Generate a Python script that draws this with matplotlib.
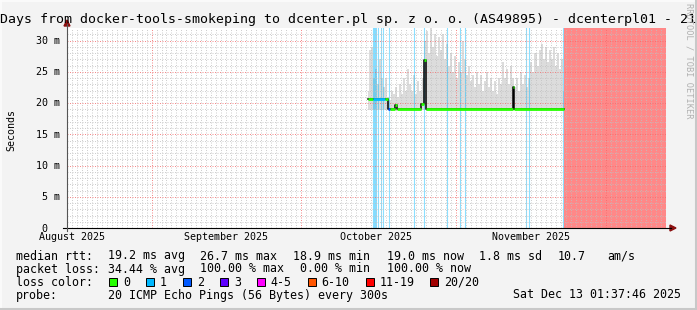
import numpy as np
import pandas as pd
import matplotlib
matplotlib.use("Agg")
import matplotlib.pyplot as plt
from matplotlib.patches import Rectangle, Polygon
from matplotlib.lines import Line2D

W, H = 697, 310
MONO = "DejaVu Sans Mono"

# ---- data ----
t_end = pd.Timestamp("2025-12-13 01:37:46")
t_start = t_end - pd.Timedelta(days=120)

month_labels = ["August 2025", "September 2025", "October 2025", "November 2025"]
month_label_dates = pd.to_datetime(["2025-08-16", "2025-09-16", "2025-10-16", "2025-11-16"])
month_starts = pd.to_datetime(["2025-09-01", "2025-10-01", "2025-11-01", "2025-12-01"])

yticks = [0, 5, 10, 15, 20, 25, 30]
ytick_labels = ["0  ", "5 m", "10 m", "15 m", "20 m", "25 m", "30 m"]

# smoke upper edge (ms), one value every ~0.4 day
smoke_start = pd.Timestamp("2025-10-14 09:00")
smoke_end = pd.Timestamp("2025-11-22 14:00")
smoke_floor = 18.9
smoke_top = [22.0, 28.5, 29.0, 24.0, 25.5, 23.0, 27.0, 24.0, 22.5, 24.0,
             21.0, 20.5, 22.0, 21.5, 22.5, 21.0, 23.0, 21.5, 24.0, 22.0,
             25.5, 23.0, 22.0, 24.5, 21.5, 23.5, 22.0, 24.0, 30.0, 31.5,
             28.0, 32.0, 29.0, 31.0, 27.5, 30.5, 28.5, 31.0, 27.0, 29.5,
             26.0, 28.0, 25.0, 27.5, 24.0, 26.5, 25.0, 30.0, 27.0, 24.5,
             26.0, 23.5, 24.5, 22.5, 25.0, 23.0, 24.5, 22.0, 23.5, 25.0,
             22.5, 24.0, 22.0, 23.5, 21.5, 24.0, 23.0, 26.5, 24.0, 25.5,
             23.0, 26.0, 24.0, 22.5, 24.0, 22.0, 25.0, 23.0, 24.5, 22.5,
             24.0, 26.5, 25.0, 28.0, 26.0, 28.5, 29.5, 27.0, 29.0, 26.5,
             28.5, 27.0, 29.0, 26.0, 28.0, 25.5, 27.0, 22.0]

# median rtt steps: segment starts, value (ms), lost pings in that segment
median_times = pd.to_datetime([
    "2025-10-14 09:00", "2025-10-15 09:00", "2025-10-17 19:00", "2025-10-18 09:00",
    "2025-10-18 19:00", "2025-10-19 18:00", "2025-10-20 04:00", "2025-10-24 23:00",
    "2025-10-25 14:00", "2025-10-26 00:00", "2025-11-12 09:00", "2025-11-12 16:00",
    "2025-11-22 14:00"])
median_vals = [20.6, 20.6, 20.6, 19.0, 19.0, 19.7, 19.0, 19.9, 26.9, 19.0, 22.6, 19.0]
median_loss = [0, 1, 0, 2, 0, 0, 0, 0, 0, 0, 0, 0]

# single-ping loss markers (vertical bars)
loss_times = pd.to_datetime([
    "2025-10-15 09:20", "2025-10-15 14:00", "2025-10-15 19:00", "2025-10-15 23:40",
    "2025-10-16 09:20", "2025-10-16 23:50", "2025-10-17 09:30", "2025-10-18 14:20",
    "2025-10-23 14:40", "2025-10-25 14:40", "2025-10-30 05:10", "2025-11-01 19:50",
    "2025-11-02 19:50", "2025-11-15 01:10", "2025-11-15 15:30", "2025-11-22 11:20"])
loss_counts = [1] * 16

outage_start = pd.Timestamp("2025-11-22 15:00")

loss_labels = ["0", "1", "2", "3", "4-5", "6-10", "11-19", "20/20"]
loss_colors = ["#26ff00", "#00b8ff", "#0059ff", "#5e00ff", "#ff00ff", "#ff5500", "#ff0000", "#a10000"]

rtt_stats = ["19.2 ms avg", "26.7 ms max", "18.9 ms min", "19.0 ms now", "1.8 ms sd", "10.7", "am/s"]
loss_stats = ["34.44 % avg", "100.00 % max", "0.00 % min", "100.00 % now"]
probe_text = "20 ICMP Echo Pings (56 Bytes) every 300s"
stamp = "Sat Dec 13 01:37:46 2025"
title = "Days from docker-tools-smokeping to dcenter.pl sp. z o. o. (AS49895) - dcenterpl01 - 21"


def fx(x):
    return x / W


def fy(y):
    return 1 - y / H


fig = plt.figure(figsize=(W / 100, H / 100), dpi=100, facecolor="#f3f3f3")
ax = fig.add_axes([fx(67), fy(228), fx(666) - fx(67), fy(28) - fy(228)])
ax.set_facecolor("white")
ax.set_xlim(t_start, t_end)
ax.set_ylim(0, 32)
for s in ax.spines.values():
    s.set_visible(False)
ax.set_xticks([])
ax.set_yticks([])

# smoke
st = pd.date_range(smoke_start, smoke_end, periods=len(smoke_top))
ax.fill_between(st, smoke_floor, smoke_top, step="mid", color="#dcdcdc", lw=0, zorder=1)

# loss markers and outage
for t, n in zip(loss_times, loss_counts):
    ax.axvline(t, color=loss_colors[n], alpha=0.45, lw=0.8, zorder=2)
ax.axvspan(outage_start, t_end, color="#ff8888", lw=0, zorder=2)

# grid (rrdtool style: 1px dotted)
days = pd.date_range("2025-08-16", "2025-12-13", freq="D")
minor_days = [d for d in days if d.day != 1]
gkw = dict(lw=0.72, dashes=(1, 1.5), zorder=3)
for d in minor_days:
    ax.axvline(d, color="#c0c0c0", alpha=0.75, **gkw)
for v in range(1, 32):
    if v % 5:
        ax.axhline(v, color="#c0c0c0", alpha=0.75, **gkw)
for d in month_starts:
    ax.axvline(d, color="#f07070", alpha=0.8, **gkw)
for v in yticks[1:]:
    ax.axhline(v, color="#f07070", alpha=0.8, **gkw)

# median
ax.step(list(median_times), median_vals + [median_vals[-1]], where="post",
        color="black", lw=1.1, zorder=4)
for i, v in enumerate(median_vals):
    ax.hlines(v, median_times[i], median_times[i + 1], color=loss_colors[median_loss[i]],
              lw=2.0, zorder=5)

# axes lines with arrows
fig.add_artist(Line2D([fx(63), fx(671)], [fy(228), fy(228)], color="black", lw=0.8))
fig.add_artist(Line2D([fx(67), fx(67)], [fy(231), fy(24)], color="#555555", lw=0.8))
fig.add_artist(Polygon([[fx(670), fy(225)], [fx(676), fy(228)], [fx(670), fy(231)]],
                       closed=True, color="#8b1010"))
fig.add_artist(Polygon([[fx(64), fy(26)], [fx(67), fy(20)], [fx(70), fy(26)]],
                       closed=True, color="#8b1010"))

# tick labels
for v, lab in zip(yticks, ytick_labels):
    y = 228 - v * 200 / 32
    fig.text(fx(60), fy(y + 0.5), lab, ha="right", va="center", family=MONO, fontsize=7.2)
for d, lab in zip(month_label_dates, month_labels):
    xf = ax.transAxes.inverted().transform(ax.transData.transform((ax.convert_xunits(d), 0)))[0]
    fig.text(fx(67) + xf * (fx(666) - fx(67)), fy(237.5), lab, ha="center", va="center",
             family=MONO, fontsize=7.2)

fig.text(fx(11), fy(130), "Seconds", rotation=90, ha="center", va="center",
         family=MONO, fontsize=7.2)
fig.text(fx(0), fy(19), title, ha="left", va="center", family=MONO, fontsize=9.55)
fig.text(fx(689), fy(3), "RRDTOOL / TOBI OETIKER", rotation=-90, ha="center", va="top",
         family=MONO, fontsize=6.2, color="#b0b0b0")

# legend block
lk = dict(family=MONO, fontsize=8.35, va="center")
fig.text(fx(16), fy(256), "median rtt:", **lk)
for xp, s in zip([107.6, 200, 293, 387, 479, 558, 607], rtt_stats):
    fig.text(fx(xp), fy(256), s, **lk)
fig.text(fx(16), fy(269), "packet loss:", **lk)
for xp, s in zip([107.6, 200, 300, 387], loss_stats):
    fig.text(fx(xp), fy(269), s, **lk)
fig.text(fx(16), fy(282), "loss color:", **lk)
bx = 109
for lab, c in zip(loss_labels, loss_colors):
    fig.add_artist(Rectangle((fx(bx), fy(286)), fx(8), fy(278) - fy(286),
                             facecolor=c, edgecolor="black", lw=0.7))
    fig.text(fx(bx + 14), fy(282), lab, **lk)
    bx += 30 + 6.96 * len(lab)
fig.text(fx(16), fy(295), "probe:", **lk)
fig.text(fx(107.6), fy(295), probe_text, **lk)
fig.text(fx(681), fy(295), stamp, ha="right", family=MONO, fontsize=8.35, va="center")

# frame shading
fig.add_artist(Line2D([0, 1], [fy(0.5), fy(0.5)], color="#fcfcfc", lw=1.2))
fig.add_artist(Line2D([fx(0.5), fx(0.5)], [0, 1], color="#fcfcfc", lw=1.2))
fig.add_artist(Line2D([fx(695.5), fx(695.5)], [0, 1], color="#c8c8c8", lw=2.2))
fig.add_artist(Line2D([0, 1], [fy(308.5), fy(308.5)], color="#c8c8c8", lw=2.2))

fig.savefig("out.png", dpi=100, facecolor=fig.get_facecolor())
